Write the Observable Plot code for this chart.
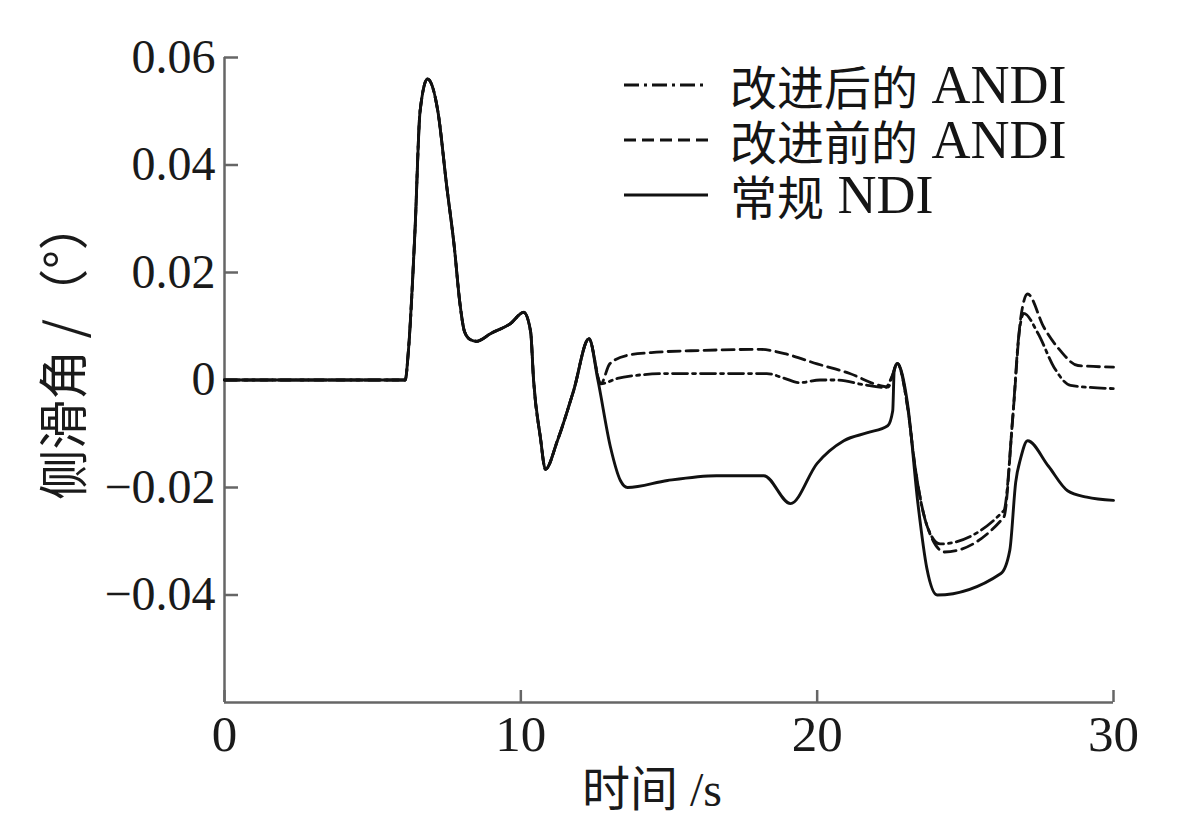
<!DOCTYPE html>
<html>
<head>
<meta charset="utf-8">
<script src="https://cdn.jsdelivr.net/npm/d3@7"></script>
<script src="https://cdn.jsdelivr.net/npm/@observablehq/plot@0.6"></script>
<style>
  body { margin: 0; background: #fff; }
  #wrap { position: relative; width: 1200px; height: 835px; }
  #legend { position: absolute; left: 622px; top: 57px; font-family: "Liberation Serif", "Noto Sans CJK SC", serif; font-size: 47px; color: #151515; }
  #legend .row { display: flex; align-items: center; height: 55px; white-space: nowrap; }
  #legend .lat { font-size: 54px; }
  #legend svg { margin-right: 20px; }
</style>
</head>
<body>
<div id="wrap"></div>
<script>
// 时间 (s) / 侧滑角 (°)
const seriesNames = ["改进后的", "改进前的", "常规"];
const seriesTags = ["ANDI", "ANDI", "NDI"];
const xLabel = "时间 /s";
const yLabel = "侧滑角 /（°）";

// common initial part shared by all three controllers
const tCommon = [0, 6.1, 6.2, 6.43, 6.6, 6.85, 7.2, 7.5, 7.75, 7.95, 8.1, 8.3, 8.5, 9.0, 9.65, 10.1, 10.33, 10.43, 10.66, 10.83, 11.24, 11.78, 12.3];
const vCommon = [0, 0, 0.005, 0.028, 0.050, 0.056, 0.050, 0.036, 0.025, 0.014, 0.009, 0.0075, 0.0072, 0.0087, 0.0105, 0.0126, 0.009, 0.0, -0.0107, -0.0166, -0.0112, -0.002, 0.0077];

// 常规 NDI (solid)
const tNDI = [12.6, 13.03, 13.36, 13.6, 14.95, 16.6, 18.2, 19.1, 20.0, 20.9, 21.7, 22.38, 22.55, 22.6, 22.7, 23.05, 23.4, 23.7, 24.05, 26.2, 26.5, 26.7, 26.87, 27.1, 27.8, 28.45, 29.1, 30];
const vNDI = [0, -0.0126, -0.0187, -0.020, -0.0187, -0.0178, -0.0178, -0.023, -0.0155, -0.0113, -0.0098, -0.0085, -0.0057, 0.0018, 0.0031, -0.0044, -0.023, -0.035, -0.0400, -0.036, -0.0317, -0.019, -0.0145, -0.0113, -0.016, -0.0206, -0.0218, -0.0224];

// 改进前的 ANDI (dashed)
const tPre = [12.7, 13.0, 13.6, 14.4, 16.1, 18.1, 18.9, 20.0, 21.1, 22.1, 22.4, 22.55, 22.7, 23.05, 23.3, 23.7, 24.3, 26.3, 26.6, 26.87, 27.1, 27.65, 28.2, 28.8, 30];
const vPre = [-0.0007, 0.003, 0.0046, 0.0051, 0.0055, 0.0057, 0.0049, 0.003, 0.0012, -0.001, -0.0013, 0.001, 0.0031, -0.005, -0.016, -0.027, -0.032, -0.0255, -0.007, 0.0116, 0.016, 0.0098, 0.0055, 0.0027, 0.0024];

// 改进后的 ANDI (dash-dot)
const tPost = [12.7, 13.26, 13.8, 14.95, 17.2, 18.3, 18.9, 19.4, 20.1, 20.6, 21.7, 22.3, 22.55, 22.7, 23.05, 23.3, 23.7, 24.15, 26.3, 26.6, 26.8, 26.97, 27.45, 28.0, 28.55, 30];
const vPost = [-0.0007, 0.0003, 0.0008, 0.0012, 0.0012, 0.0012, 0.0003, -0.0005, 0.0, 0.0, -0.001, -0.0014, 0.001, 0.0031, -0.005, -0.016, -0.027, -0.0305, -0.0243, -0.007, 0.008, 0.0124, 0.0087, 0.0023, -0.001, -0.0016];

const xTicks = [0, 10, 20, 30];
const yTicks = [-0.04, -0.02, 0, 0.02, 0.04, 0.06];
const yTickLabels = ["\u22120.04", "\u22120.02", "0", "0.02", "0.04", "0.06"];

const dashes = ["15,5,3,5", "12,6", null];

function build(name, ts, vs) {
  const rows = tCommon.map((t, i) => ({series: name, t, v: vCommon[i]}));
  ts.forEach((t, i) => rows.push({series: name, t, v: vs[i]}));
  return rows;
}
const dataPost = build(seriesNames[0], tPost, vPost);
const dataPre = build(seriesNames[1], tPre, vPre);
const dataNDI = build(seriesNames[2], tNDI, vNDI);

const axisColor = "#666";
const lineColor = "#111";
const chart = Plot.plot({
  width: 1200,
  height: 835,
  marginLeft: 224,
  marginRight: 87,
  marginTop: 57,
  marginBottom: 133,
  style: {fontFamily: "'Liberation Serif', 'Noto Sans CJK SC', serif", fontSize: "50px", color: "#1a1a1a", background: "#fff"},
  x: {domain: [0, 30]},
  y: {domain: [-0.06, 0.06]},
  marks: [
    Plot.ruleX([0], {stroke: axisColor, strokeWidth: 2.5}),
    Plot.ruleY([-0.06], {stroke: axisColor, strokeWidth: 2.5}),
    Plot.axisX({ticks: xTicks, tickSize: -12, tickPadding: 24, stroke: axisColor, strokeWidth: 2.5,
      label: null, fontSize: 51}),
    Plot.axisY({ticks: yTicks, tickFormat: (d) => yTickLabels[yTicks.indexOf(d)], tickSize: -14, tickPadding: 23,
      stroke: axisColor, strokeWidth: 2.5, label: null, fontSize: 48}),
    Plot.text([xLabel], {text: (d) => d, frameAnchor: "bottom", textAnchor: "middle", dy: 103, dx: -17, fontSize: 48,
      fontFamily: "'Liberation Serif', 'Noto Sans CJK SC', serif", fill: "#1a1a1a"}),
    Plot.text([yLabel], {text: (d) => d, frameAnchor: "left", textAnchor: "middle", rotate: -90, dx: -159, dy: -30, fontSize: 50,
      fontFamily: "'Noto Sans CJK SC', 'Liberation Serif', sans-serif", fill: "#1a1a1a"}),
    Plot.line(dataPost, {x: "t", y: "v", stroke: lineColor, strokeWidth: 2.8, strokeDasharray: dashes[0], curve: "monotone-x"}),
    Plot.line(dataPre, {x: "t", y: "v", stroke: lineColor, strokeWidth: 2.8, strokeDasharray: dashes[1], curve: "monotone-x"}),
    Plot.line(dataNDI, {x: "t", y: "v", stroke: lineColor, strokeWidth: 2.9, curve: "monotone-x"})
  ]
});

const wrap = document.getElementById("wrap");
wrap.appendChild(chart);

const legend = document.createElement("div");
legend.id = "legend";
seriesNames.forEach((name, i) => {
  const row = document.createElement("div");
  row.className = "row";
  const dash = dashes[i] ? `stroke-dasharray="${dashes[i]}"` : "";
  row.innerHTML = `<svg width="88" height="10"><line x1="2" y1="5" x2="86" y2="5" stroke="${lineColor}" stroke-width="2.8" ${dash}/></svg><span>${name}</span><span class="lat">&nbsp;${seriesTags[i]}</span>`;
  legend.appendChild(row);
});
wrap.appendChild(legend);
</script>
</body>
</html>
